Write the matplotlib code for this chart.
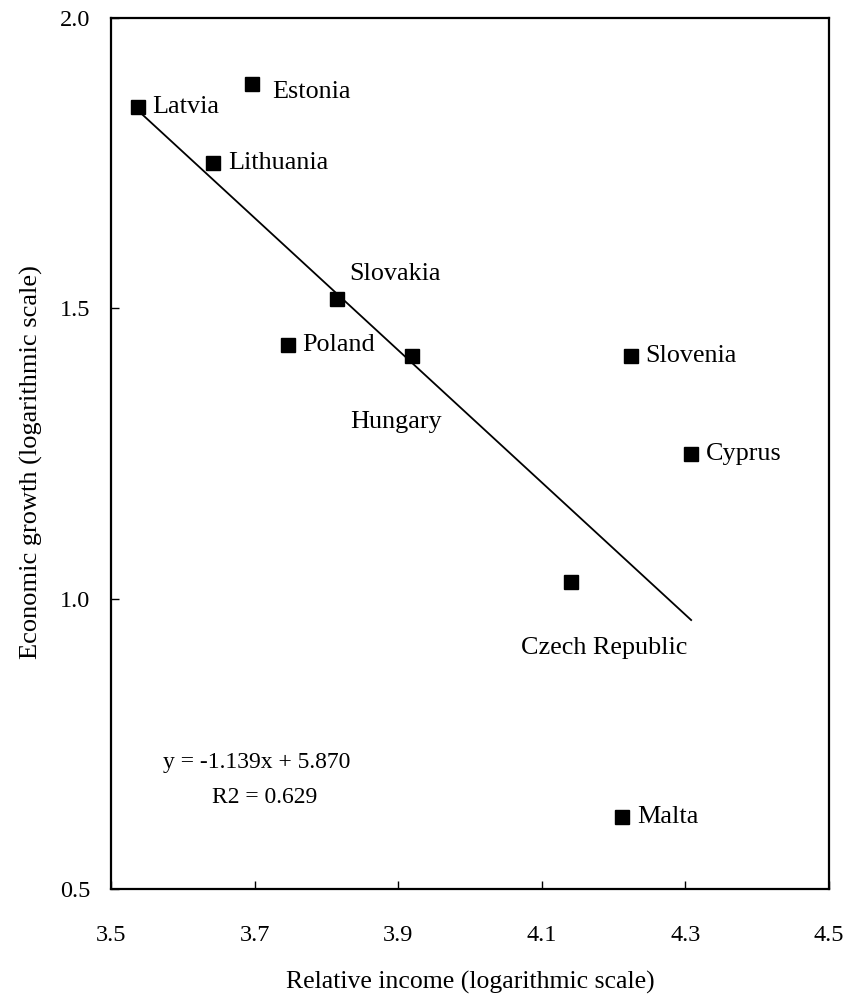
import numpy as np
import matplotlib
matplotlib.use('Agg')
import matplotlib.pyplot as plt

plt.rcParams['font.family'] = ['Liberation Serif', 'DejaVu Serif']
plt.rcParams['font.size'] = 14

# data
countries = ["Latvia", "Estonia", "Lithuania", "Slovakia", "Poland",
             "Hungary", "Slovenia", "Cyprus", "Czech Republic", "Malta"]
income = [3.538, 3.696, 3.642, 3.815, 3.747, 3.919, 4.224, 4.308, 4.141, 4.212]
growth = [1.847, 1.886, 1.750, 1.516, 1.437, 1.418, 1.418, 1.249, 1.029, 0.624]
slope, intercept, r2 = -1.139, 5.870, 0.629

# label offsets in pixels (dx, dy)
offsets = {
    "Latvia": (14, 0),
    "Estonia": (20, -8),
    "Lithuania": (15, 0),
    "Slovakia": (12, 25),
    "Poland": (14, 0),
    "Hungary": (-62, -66),
    "Slovenia": (14, 0),
    "Cyprus": (15, 0),
    "Czech Republic": (-50, -66),
    "Malta": (15, 0),
}

fig = plt.figure(figsize=(8.51, 10.02), dpi=100)
ax = fig.add_axes([111/851, 1-889/1002, (829-111)/851, (889-18)/1002])

xl = np.array([min(income), max(income)])
ax.plot(xl, slope*xl + intercept, color='k', linewidth=1.3)
ax.plot(income, growth, 'ks', markersize=9.5, linestyle='none')

for name, xx, yy in zip(countries, income, growth):
    dx, dy = offsets[name]
    ax.annotate(name, (xx, yy), xytext=(dx, dy), textcoords='offset pixels',
                ha='left', va='center', fontsize=18.8)

ax.text(3.572, 0.718, "y = -1.139x + 5.870", fontsize=17, va='center')
ax.text(3.641, 0.658, "R2 = %.3f" % r2, fontsize=17, va='center')

ax.set_xlim(3.5, 4.5)
ax.set_ylim(0.5, 2.0)
ax.set_xticks([3.5, 3.7, 3.9, 4.1, 4.3, 4.5])
ax.set_yticks([0.5, 1.0, 1.5, 2.0])
ax.set_yticklabels(["0.5", "1.0", "1.5", "2.0"])
ax.set_xticklabels(["3.5", "3.7", "3.9", "4.1", "4.3", "4.5"])
ax.tick_params(axis='x', direction='in', length=6, width=1, pad=26, labelsize=17.5)
ax.tick_params(axis='y', direction='in', length=6, width=1, pad=15, labelsize=17.5)
for s in ax.spines.values():
    s.set_linewidth(1.6)

ax.set_xlabel("Relative income (logarithmic scale)", fontsize=18.5, labelpad=18)
ax.set_ylabel("Economic growth (logarithmic scale)", fontsize=19, labelpad=14)
ax.yaxis.set_label_coords(-0.095, 0.49)

fig.savefig("out.png", dpi=100)
